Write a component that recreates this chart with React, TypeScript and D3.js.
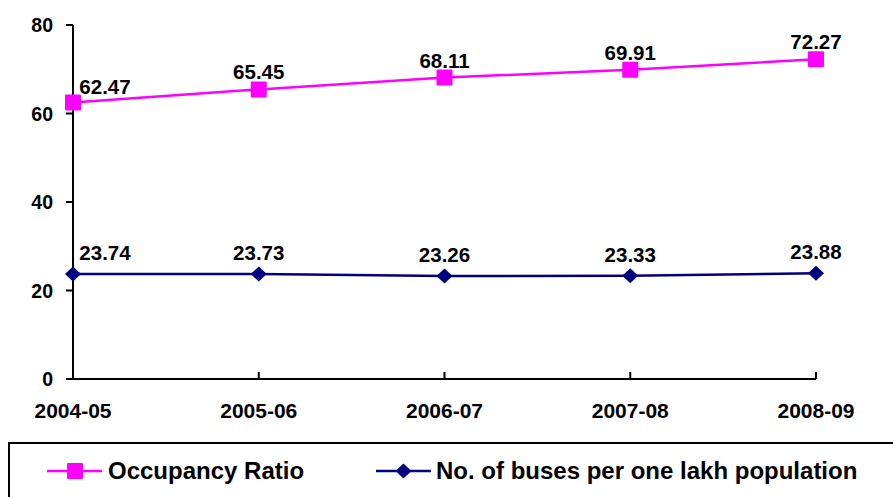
import React from "react";
import * as d3 from "d3";

const categories = ["2004-05", "2005-06", "2006-07", "2007-08", "2008-09"];
const occupancy = [62.47, 65.45, 68.11, 69.91, 72.27];
const buses = [23.74, 23.73, 23.26, 23.33, 23.88];
const yTicks = [0, 20, 40, 60, 80];
const seriesNames = ["Occupancy Ratio", "No. of buses per one lakh population"];

const W = 893;
const H = 497;
const FONT = "'Liberation Sans', Arial, sans-serif";

export default function App() {
  const x = d3.scalePoint<string>().domain(categories).range([73, 816]);
  const y = d3.scaleLinear().domain([0, 80]).range([379, 25]);
  const line = d3
    .line<number>()
    .x((_, i) => x(categories[i]) as number)
    .y((d) => y(d));

  return (
    <svg
      width={W}
      height={H}
      style={{ position: "absolute", left: 0, top: 0, background: "#fff" }}
      fontFamily={FONT}
      fontWeight="bold"
    >
      {/* y axis */}
      <line x1={73} x2={73} y1={y(80)} y2={y(0)} stroke="#000" strokeWidth={2} />
      {yTicks.map((t) => (
        <g key={t}>
          <line x1={66} x2={73} y1={y(t)} y2={y(t)} stroke="#000" strokeWidth={2} />
          <text x={53} y={y(t)} dy="0.36em" textAnchor="end" fontSize={19.5}>
            {t}
          </text>
        </g>
      ))}
      {/* x axis */}
      <line x1={73} x2={816} y1={y(0)} y2={y(0)} stroke="#000" strokeWidth={2} />
      {categories.map((c) => (
        <g key={c}>
          <line
            x1={x(c)}
            x2={x(c)}
            y1={y(0)}
            y2={y(0) - 7}
            stroke="#000"
            strokeWidth={2}
          />
          <text x={x(c)} y={418} textAnchor="middle" fontSize={21}>
            {c}
          </text>
        </g>
      ))}
      {/* occupancy series */}
      <path d={line(occupancy) || ""} fill="none" stroke="#FF00FF" strokeWidth={2.5} />
      {occupancy.map((v, i) => (
        <g key={"o" + i}>
          <rect
            x={(x(categories[i]) as number) - 8}
            y={y(v) - 8}
            width={16}
            height={16}
            rx={1}
            fill="#FF00FF"
          />
          <text
            x={i === 0 ? 105 : (x(categories[i]) as number)}
            y={y(v) - (i === 0 ? 8.5 : 10)}
            textAnchor="middle"
            fontSize={20.5}
          >
            {v.toFixed(2)}
          </text>
        </g>
      ))}
      {/* buses series */}
      <path d={line(buses) || ""} fill="none" stroke="#000080" strokeWidth={2.5} />
      {buses.map((v, i) => {
        const cx = x(categories[i]) as number;
        const cy = y(v);
        return (
          <g key={"b" + i}>
            <path
              d={`M${cx},${cy - 7.5}L${cx + 8},${cy}L${cx},${cy + 7.5}L${cx - 8},${cy}Z`}
              fill="#000080"
            />
            <text
              x={i === 0 ? 105 : cx}
              y={cy - 14}
              textAnchor="middle"
              fontSize={20.5}
            >
              {v.toFixed(2)}
            </text>
          </g>
        );
      })}
      {/* legend */}
      <rect x={9} y={443} width={900} height={60} fill="none" stroke="#000" strokeWidth={2} />
      <line x1={47} x2={102} y1={471} y2={471} stroke="#FF00FF" strokeWidth={2.5} />
      <rect x={67} y={463} width={16} height={16} rx={1} fill="#FF00FF" />
      <text x={108} y={479} fontSize={24}>
        {seriesNames[0]}
      </text>
      <line x1={376} x2={431} y1={471} y2={471} stroke="#000080" strokeWidth={2.5} />
      <path d="M403.5,463.5L411.5,471L403.5,478.5L395.5,471Z" fill="#000080" />
      <text x={436} y={479} fontSize={24}>
        {seriesNames[1]}
      </text>
    </svg>
  );
}
